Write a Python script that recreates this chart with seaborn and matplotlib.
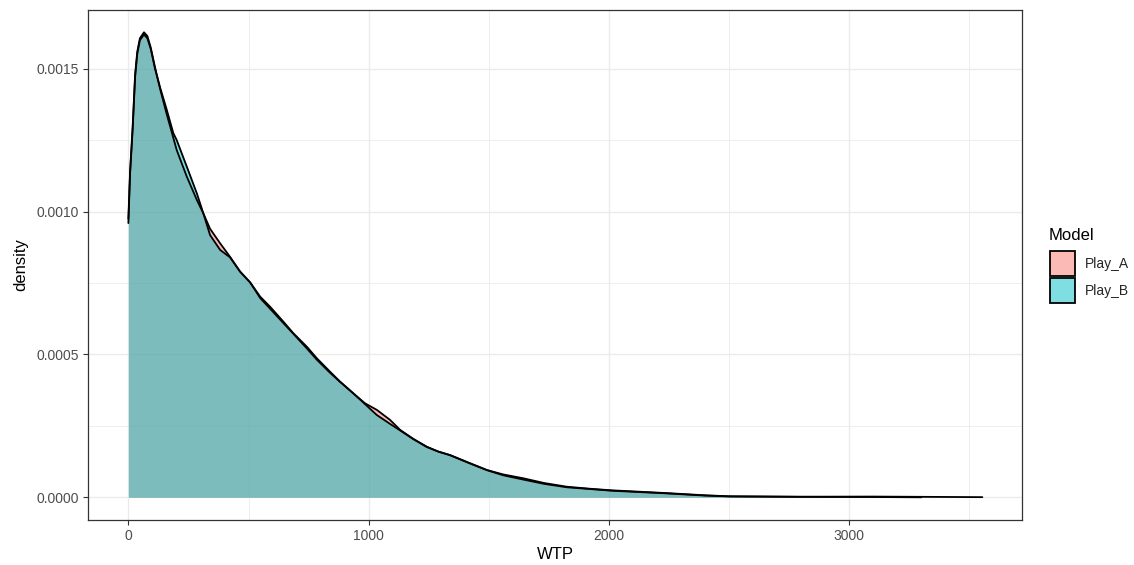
import numpy as np
import pandas as pd
import matplotlib
matplotlib.use("Agg")
import matplotlib.pyplot as plt
from matplotlib.patches import Patch
from matplotlib.ticker import MultipleLocator, FixedLocator
import seaborn as sns

# Density curves (WTP vs density)
models = ["Play_A", "Play_B"]
x_a = [0, 7, 18, 28, 37, 48, 65, 79, 93, 111, 132, 160, 174, 201, 243, 285, 312, 340, 382,
       423, 465, 507, 549, 590, 645, 687, 743, 784, 839, 881, 936, 985, 1034, 1089, 1131,
       1185, 1242, 1290, 1339, 1420, 1492, 1560, 1644, 1730, 1825, 1920, 2010, 2233, 2400,
       2501, 2800, 3100, 3554]
y_a = [0.000975, 0.00114, 0.00130, 0.00148, 0.00156, 0.001607, 0.001628, 0.001615, 0.001575,
       0.001505, 0.00143, 0.00134, 0.001298, 0.001216, 0.001123, 0.001041, 0.000994,
       0.000940, 0.000889, 0.000842, 0.000790, 0.000752, 0.000702, 0.000667, 0.000615,
       0.000574, 0.000527, 0.000487, 0.000440, 0.000405, 0.000364, 0.000329, 0.000306,
       0.000271, 0.000236, 0.000205, 0.000177, 0.000160, 0.000148, 0.000120, 0.0000956,
       0.000080, 0.0000665, 0.000050, 0.000037, 0.000030, 0.0000245, 0.000015, 0.000007,
       0.0000035, 0.000002, 0.0000025, 0.0000005]
x_b = [0, 7, 18, 28, 37, 48, 65, 79, 93, 111, 132, 160, 187, 201, 243, 285, 312, 340, 382,
       423, 465, 507, 549, 590, 645, 687, 743, 784, 839, 881, 936, 985, 1034, 1089, 1131,
       1185, 1242, 1290, 1339, 1420, 1492, 1560, 1644, 1730, 1825, 1920, 2010, 2233, 2400,
       2501, 2800, 3100, 3300]
y_b = [0.00096, 0.00113, 0.00129, 0.00147, 0.001552, 0.00160, 0.00162, 0.001607, 0.00157,
       0.00150, 0.001435, 0.001356, 0.001275, 0.001251, 0.001158, 0.001064, 0.000994,
       0.000918, 0.000866, 0.000840, 0.000790, 0.000752, 0.000697, 0.000660, 0.000610,
       0.000572, 0.000521, 0.000482, 0.000436, 0.000404, 0.000364, 0.000326, 0.000288,
       0.000257, 0.000234, 0.000204, 0.000176, 0.000160, 0.000147, 0.000119, 0.000095,
       0.000077, 0.000062, 0.000047, 0.000035, 0.000029, 0.000023, 0.000014, 0.000006,
       0.000003, 0.0000015, 0.000001, 0.0]
x_ticks = [0, 1000, 2000, 3000]
y_ticks = [0.0, 0.0005, 0.0010, 0.0015]
colors = {"Play_A": "#F8766D", "Play_B": "#00BFC4"}

df = pd.concat([
    pd.DataFrame({"WTP": x_a, "density": y_a, "Model": "Play_A"}),
    pd.DataFrame({"WTP": x_b, "density": y_b, "Model": "Play_B"}),
], ignore_index=True)

sns.set_theme(style="white")
plt.rcParams["font.family"] = ["Liberation Sans", "DejaVu Sans"]

fig = plt.figure(figsize=(11.34, 5.65), dpi=100)
ax = fig.add_axes([88/1134, 1-520/565, (1022-88)/1134, (520-10)/565])

for m in models:
    sub = df[df["Model"] == m]
    ax.fill_between(sub["WTP"], 0, sub["density"], color=colors[m], alpha=0.5,
                    linewidth=0, zorder=2)
    sns.lineplot(data=sub, x="WTP", y="density", color="black", linewidth=1.3,
                 ax=ax, zorder=3, sort=False, estimator=None)

ax.set_xlim(-168, 3719)
ax.set_ylim(-0.0000795, 0.001706)
ax.xaxis.set_major_locator(FixedLocator(x_ticks))
ax.yaxis.set_major_locator(FixedLocator(y_ticks))
ax.xaxis.set_minor_locator(MultipleLocator(500))
ax.yaxis.set_minor_locator(MultipleLocator(0.00025))
ax.set_xticklabels([str(t) for t in x_ticks])
ax.set_yticklabels([f"{t:.4f}" for t in y_ticks])
ax.grid(True, which="major", color="#EBEBEB", linewidth=1.0, zorder=0)
ax.grid(True, which="minor", color="#EBEBEB", linewidth=0.6, zorder=0)
ax.set_axisbelow(True)
ax.tick_params(axis="both", which="major", length=3.5, width=0.8, color="#333333",
               labelsize=10, labelcolor="#4D4D4D", pad=3, direction="out",
               bottom=True, left=True)
ax.tick_params(axis="both", which="minor", length=0)
for s in ax.spines.values():
    s.set_color("#333333")
    s.set_linewidth(0.9)
ax.set_xlabel("WTP", fontsize=12, color="black", labelpad=3)
ax.set_ylabel("density", fontsize=12, color="black", labelpad=6)

# Legend: title as separate text, keys below
fig.text(1049/1134, 1-240/565, "Model", fontsize=12, color="black",
         ha="left", va="baseline")
handles = [Patch(facecolor=matplotlib.colors.to_rgba(colors[m], 0.5),
                 edgecolor="black", linewidth=1.3, label=m) for m in models]
leg = fig.legend(handles=handles, loc="upper left",
                 bbox_to_anchor=(1050/1134, 1-251/565), frameon=False,
                 fontsize=10, handlelength=1.8, handleheight=2.39,
                 handletextpad=0.72, labelspacing=0.15, borderaxespad=0, borderpad=0)

fig.savefig("out.png", dpi=100)
